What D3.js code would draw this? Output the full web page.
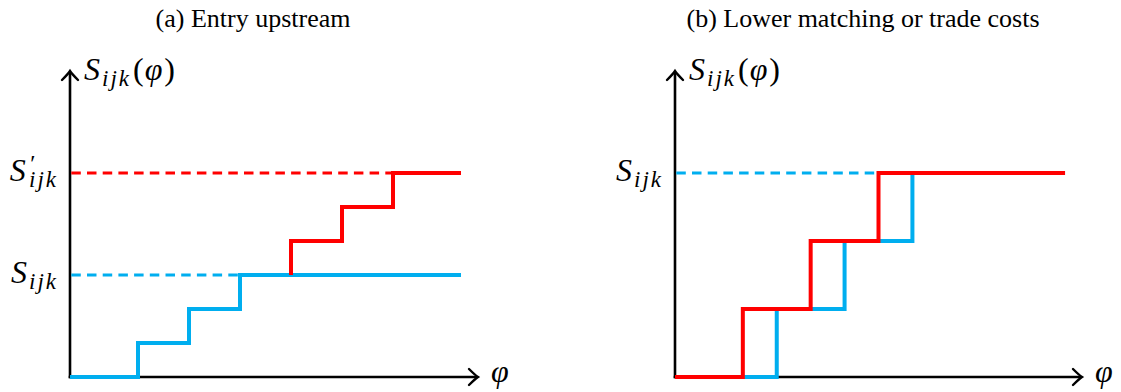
<!DOCTYPE html>
<html>
<head>
<meta charset="utf-8">
<script src="https://cdn.jsdelivr.net/npm/d3@7"></script>
<style>
  html, body { margin: 0; padding: 0; background: #fff; }
  svg { display: block; }
  text { fill: #000; font-family: Liberation Serif, serif; }
  .math { font-style: italic; }
</style>
</head>
<body>
<svg id="chart" width="1121" height="392"></svg>
<script>
// ---- data ----
const panelTitles = ["(a) Entry upstream", "(b) Lower matching or trade costs"];

// Panel (a): step functions S_ijk(phi)
const phiBlueA = [0, 2, 3.5, 5, 11.5];
const sBlueA   = [0, 1, 2, 3, 3];
const phiRedA  = [6.5, 6.5, 8, 9.5, 11.5];
const sRedA    = [3, 4, 5, 6, 6];
// dashed reference levels (a)
const refLevelsA = [3, 6];           // S_ijk, S'_ijk
const refEndA    = [5, 9.5];
const refLabelsA = [{s: "S", prime: false, sub: "ijk"}, {s: "S", prime: true, sub: "ijk"}];

// Panel (b)
const phiBlueB = [0, 3, 5, 7, 11.5];
const sBlueB   = [0, 2, 4, 6, 6];
const phiRedB  = [0, 2, 4, 6, 11.5];
const sRedB    = [0, 2, 4, 6, 6];
const refLevelsB = [6];
const refEndB    = [6];
const refLabelsB = [{s: "S", prime: false, sub: "ijk"}];

const phiMax = 12, sMax = 9;

// ---- styles ----
const BLUE = "#00AEEF", RED = "#FF0000";

const svg = d3.select("#chart");

const panels = [
  { title: panelTitles[0], titleX: 253, x0: 70, x1: 478,
    series: [
      {phi: phiBlueA, s: sBlueA, color: BLUE},
      {phi: phiRedA,  s: sRedA,  color: RED}
    ],
    refs: refLevelsA.map((v, i) => ({level: v, end: refEndA[i], label: refLabelsA[i], color: i === 0 ? BLUE : RED}))
  },
  { title: panelTitles[1], titleX: 863, x0: 675, x1: 1082,
    series: [
      {phi: phiBlueB, s: sBlueB, color: BLUE},
      {phi: phiRedB,  s: sRedB,  color: RED}
    ],
    refs: refLevelsB.map((v, i) => ({level: v, end: refEndB[i], label: refLabelsB[i], color: BLUE}))
  }
];

function mathLabel(sel, lab) {
  sel.append("tspan").text(lab.s);
  if (lab.prime) {
    sel.append("tspan").style("font-size", "24px").attr("dy", -10).attr("dx", 3).text("\u2032");
    sel.append("tspan").style("font-size", "23px").style("letter-spacing", "2px")
      .attr("dy", 16).attr("dx", -5).text(lab.sub);
  } else {
    sel.append("tspan").style("font-size", "23px").style("letter-spacing", "2px")
      .attr("dy", 6).attr("dx", 2).text(lab.sub);
  }
}

panels.forEach(p => {
  const x = d3.scaleLinear().domain([0, phiMax]).range([p.x0, p.x1]);
  const y = d3.scaleLinear().domain([0, sMax]).range([377, 71]);
  const g = svg.append("g");

  // title
  g.append("text")
    .attr("x", p.titleX).attr("y", 27)
    .attr("text-anchor", "middle")
    .style("font-size", "26px")
    .text(p.title);

  // axes (domain lines only)
  const xAxis = d3.axisBottom(x).tickValues([]).tickSizeOuter(0);
  const yAxis = d3.axisLeft(y).tickValues([]).tickSizeOuter(0);
  const gx = g.append("g").attr("transform", `translate(0,${y(0)})`).call(xAxis);
  const gy = g.append("g").attr("transform", `translate(${x(0)},0)`).call(yAxis);
  [gx, gy].forEach(a => a.select(".domain").attr("stroke", "#000").attr("stroke-width", 2.6));
  gx.select(".domain").attr("d", `M${x(0) - 1.3},0H${x(phiMax) - 1}`);
  gy.select(".domain").attr("d", `M0,${y(0) + 1.3}V${y(sMax) + 1}`);

  // arrow heads (TikZ "to" style)
  const ah = 8, al = 9;
  g.append("path")
    .attr("d", `M${x(phiMax) - al},${y(0) - ah} Q${x(phiMax) - 3},${y(0) - 2} ${x(phiMax)},${y(0)} Q${x(phiMax) - 3},${y(0) + 2} ${x(phiMax) - al},${y(0) + ah}`)
    .attr("fill", "none").attr("stroke", "#000").attr("stroke-width", 2.4).attr("stroke-linecap", "round");
  g.append("path")
    .attr("d", `M${x(0) - ah},${y(sMax) + al} Q${x(0) - 2},${y(sMax) + 3} ${x(0)},${y(sMax)} Q${x(0) + 2},${y(sMax) + 3} ${x(0) + ah},${y(sMax) + al}`)
    .attr("fill", "none").attr("stroke", "#000").attr("stroke-width", 2.4).attr("stroke-linecap", "round");

  // axis labels
  const yl = g.append("text")
    .attr("class", "math")
    .attr("x", x(0) + 14).attr("y", 80)
    .style("font-size", "32px");
  yl.append("tspan").text("S");
  yl.append("tspan").style("font-size", "23px").style("letter-spacing", "2px")
    .attr("dy", 6).attr("dx", 2).text("ijk");
  yl.append("tspan").attr("dy", -6).attr("dx", 2).style("font-style", "normal").text("(");
  yl.append("tspan").attr("dx", 1).text("\u03C6");
  yl.append("tspan").attr("dx", 2).style("font-style", "normal").text(")");

  g.append("text")
    .attr("class", "math")
    .attr("x", x(phiMax) + 13).attr("y", y(0) + 5)
    .style("font-size", "32px")
    .text("\u03C6");

  // dashed reference lines + labels
  p.refs.forEach(r => {
    g.append("line")
      .attr("x1", x(0) + 1.3).attr("x2", x(r.end))
      .attr("y1", y(r.level)).attr("y2", y(r.level))
      .attr("stroke", r.color).attr("stroke-width", 3)
      .attr("stroke-dasharray", "9.5,6.2");
    const t = g.append("text")
      .attr("class", "math")
      .attr("x", x(0) - 12).attr("y", y(r.level) + 8)
      .attr("text-anchor", "end")
      .style("font-size", "32px");
    mathLabel(t, r.label);
  });

  // step functions
  const line = d3.line().x(d => x(d[0])).y(d => y(d[1])).curve(d3.curveStepAfter);
  p.series.forEach(sr => {
    const pts = sr.phi.map((v, i) => [v, sr.s[i]]);
    g.append("path")
      .attr("d", line(pts))
      .attr("fill", "none")
      .attr("stroke", sr.color)
      .attr("stroke-width", 4)
      .attr("stroke-linejoin", "miter");
  });
});
</script>
</body>
</html>
